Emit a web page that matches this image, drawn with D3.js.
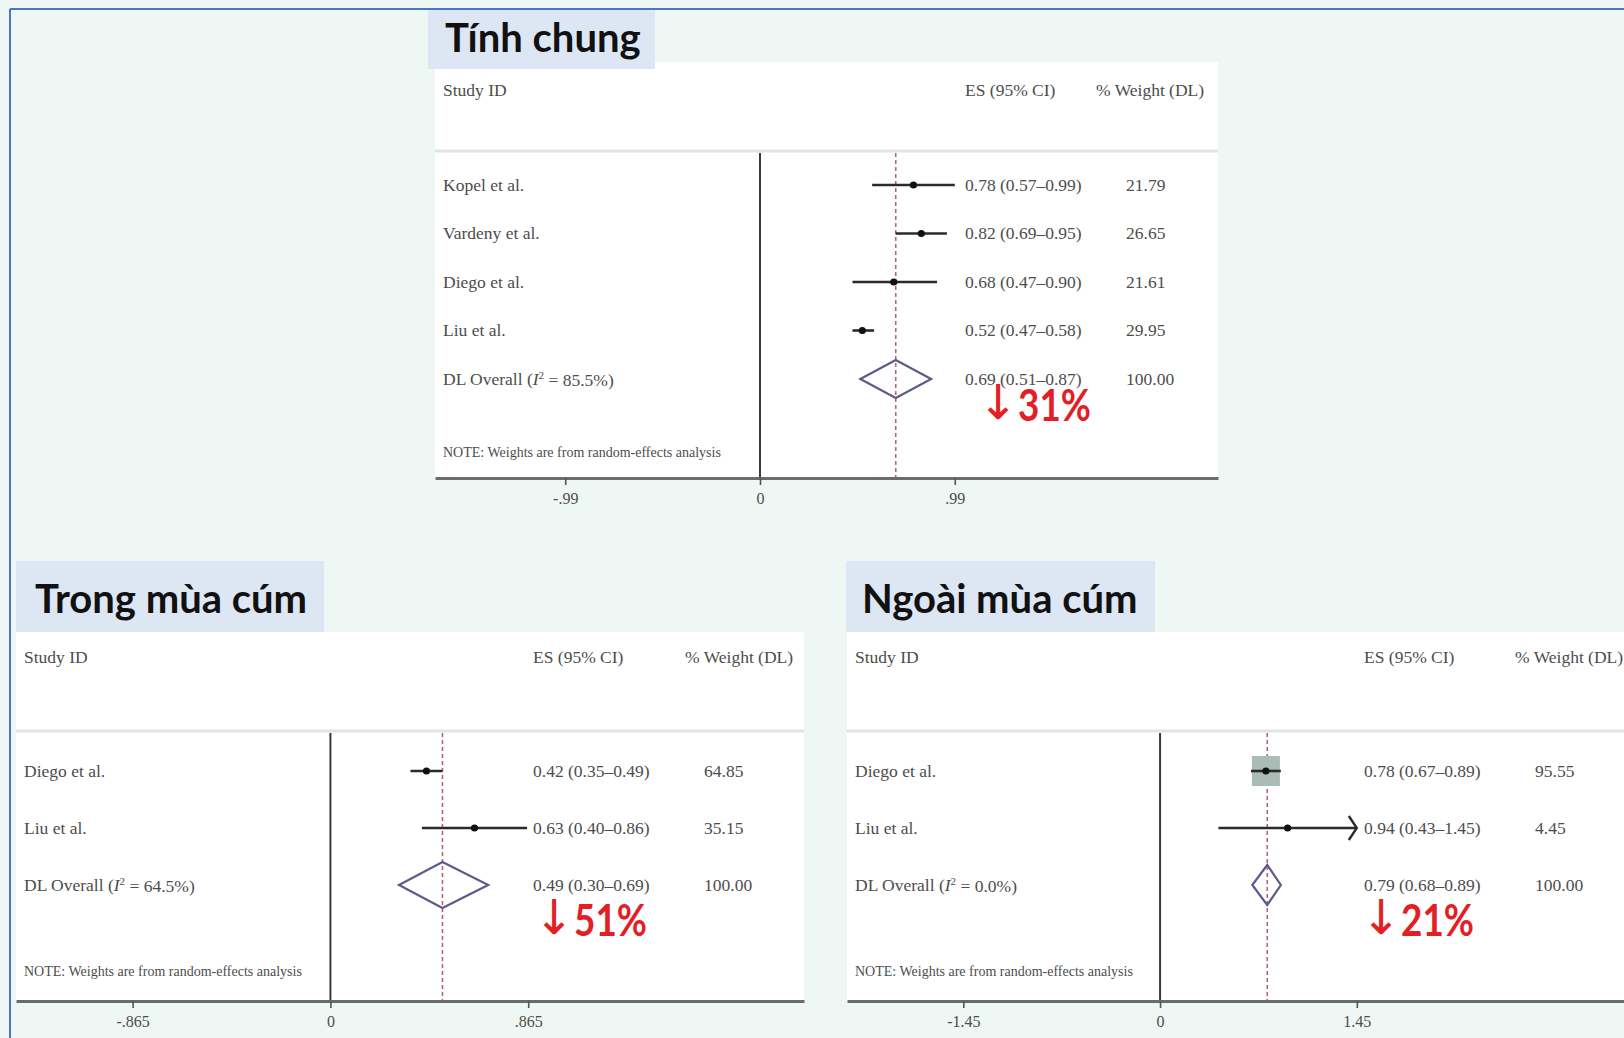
<!DOCTYPE html>
<html><head><meta charset="utf-8">
<script src="https://cdn.jsdelivr.net/npm/d3@7"></script>
<style>
html,body{margin:0;padding:0;background:#eff7f4;}
svg{display:block}
</style>
</head><body>
<svg id="chart" width="1624" height="1038"></svg>
<script>
// ---------------- DATA ----------------
const panelTitles = ["Tính chung", "Trong mùa cúm", "Ngoài mùa cúm"];
const studies = [
  ["Kopel et al.", "Vardeny et al.", "Diego et al.", "Liu et al."],
  ["Diego et al.", "Liu et al."],
  ["Diego et al.", "Liu et al."]
];
const es      = [[0.78, 0.82, 0.68, 0.52], [0.42, 0.63], [0.78, 0.94]];
const ciLow   = [[0.57, 0.69, 0.47, 0.47], [0.35, 0.40], [0.67, 0.43]];
const ciHigh  = [[0.99, 0.95, 0.90, 0.58], [0.49, 0.86], [0.89, 1.45]];
const weights = [[21.79, 26.65, 21.61, 29.95], [64.85, 35.15], [95.55, 4.45]];
const overallES   = [0.69, 0.49, 0.79];
const overallLow  = [0.51, 0.30, 0.68];
const overallHigh = [0.87, 0.69, 0.89];
const overallWeight = [100.00, 100.00, 100.00];
const i2Values  = ["85.5%", "64.5%", "0.0%"];
const reductions = ["31%", "51%", "21%"];
const tickValues = [[-0.99, 0, 0.99], [-0.865, 0, 0.865], [-1.45, 0, 1.45]];
const tickLabels = [["-.99", "0", ".99"], ["-.865", "0", ".865"], ["-1.45", "0", "1.45"]];
const headerLabels = ["Study ID", "ES (95% CI)", "% Weight (DL)"];
const noteText = "NOTE: Weights are from random-effects analysis";

// ---------------- LAYOUT ----------------
const layout = [
  { title: {x: 428, y: 10, w: 227, h: 59, tx: 445, ty: 52},
    panel: {x: 435, y: 62, w: 783}, sepY: 151, axisY: 478,
    domain: [-1.652, 2.328], rowRange: [185, 379],
    headerY: 96, esX: 965, wtX: 1126, wtHX: 1096, noteY: 457,
    diamondH: 19, red: {x: 982, y: 421}, clipMax: null, showBox: false },
  { title: {x: 16, y: 561, w: 308, h: 71, tx: 35, ty: 613},
    panel: {x: 16, y: 632, w: 788}, sepY: 731, axisY: 1001,
    domain: [-1.375, 2.071], rowRange: [771, 885],
    headerY: 663, esX: 533, wtX: 704, wtHX: 685, noteY: 976,
    diamondH: 23, red: {x: 538, y: 936}, clipMax: null, showBox: false },
  { title: {x: 846, y: 561, w: 309, h: 71, tx: 862, ty: 613},
    panel: {x: 847, y: 632, w: 777}, sepY: 731, axisY: 1001,
    domain: [-2.307, 3.419], rowRange: [771, 885],
    headerY: 663, esX: 1364, wtX: 1535, wtHX: 1515, noteY: 976,
    diamondH: 20, red: {x: 1365, y: 936}, clipMax: 1.45, showBox: true }
];

const serif = "'Liberation Serif', 'DejaVu Serif', serif";
const textCol = "#4d4d4d";
const fmt = d3.format(".2f");

const svg = d3.select("#chart");

// background
svg.append("rect").attr("width", 1624).attr("height", 1038).attr("fill", "#eff7f4");

panelTitles.forEach((title, p) => {
  const L = layout[p];
  const g = svg.append("g");
  const x = d3.scaleLinear().domain(L.domain).range([L.panel.x, L.panel.x + L.panel.w]);
  const nRows = studies[p].length + 1;
  const y = d3.scaleLinear().domain([0, nRows - 1]).range(L.rowRange);

  // white panel (header + body)
  g.append("rect").attr("x", L.panel.x).attr("y", L.panel.y)
    .attr("width", L.panel.w).attr("height", L.axisY - L.panel.y).attr("fill", "#ffffff");
  // header separator
  g.append("line").attr("x1", L.panel.x).attr("x2", L.panel.x + L.panel.w)
    .attr("y1", L.sepY).attr("y2", L.sepY).attr("stroke", "#e2e4e3").attr("stroke-width", 3);

  // title box
  g.append("rect").attr("x", L.title.x).attr("y", L.title.y)
    .attr("width", L.title.w).attr("height", L.title.h).attr("fill", "#dce7f3");
  g.append("text").attr("x", L.title.tx).attr("y", L.title.ty)
    .attr("font-family", "Lato, 'Open Sans', sans-serif").attr("font-weight", 700)
    .attr("font-size", 40).attr("fill", "#111").text(title);

  // headers
  const hdr = g.append("g").attr("font-family", serif).attr("font-size", 17.5).attr("fill", textCol);
  hdr.append("text").attr("x", L.panel.x + 8).attr("y", L.headerY).text(headerLabels[0]);
  hdr.append("text").attr("x", L.esX).attr("y", L.headerY).text(headerLabels[1]);
  hdr.append("text").attr("x", L.wtHX).attr("y", L.headerY).text(headerLabels[2]);

  // null line at 0
  g.append("line").attr("x1", x(0)).attr("x2", x(0))
    .attr("y1", L.sepY + 2).attr("y2", L.axisY).attr("stroke", "#3a3a3a").attr("stroke-width", 2);

  // overall dashed line
  g.append("line").attr("x1", x(overallES[p])).attr("x2", x(overallES[p]))
    .attr("y1", L.sepY + 2).attr("y2", L.axisY).attr("stroke", "#b5657a")
    .attr("stroke-width", 1.6).attr("stroke-dasharray", "4,3");

  // study rows
  studies[p].forEach((name, i) => {
    const yy = y(i);
    if (L.showBox && i === 0) {
      const bw = 28, bh = 30;
      g.append("rect").attr("x", x(es[p][i]) - bw / 2).attr("y", yy - bh / 2)
        .attr("width", bw).attr("height", bh).attr("fill", "#a9bcb6");
    }
    const hi = (L.clipMax !== null && ciHigh[p][i] >= L.clipMax) ? L.clipMax : ciHigh[p][i];
    g.append("line").attr("x1", x(ciLow[p][i])).attr("x2", x(hi))
      .attr("y1", yy).attr("y2", yy).attr("stroke", "#2b2b2b").attr("stroke-width", 2.6);
    if (L.clipMax !== null && ciHigh[p][i] >= L.clipMax) {
      const ax = x(L.clipMax);
      g.append("path").attr("d", `M${ax - 8},${yy - 12} L${ax},${yy} L${ax - 8},${yy + 12}`)
        .attr("fill", "none").attr("stroke", "#2b2b2b").attr("stroke-width", 2.4);
    }
    g.append("circle").attr("cx", x(es[p][i])).attr("cy", yy).attr("r", 3.6).attr("fill", "#111");

    const t = g.append("g").attr("font-family", serif).attr("font-size", 17.5).attr("fill", textCol);
    t.append("text").attr("x", L.panel.x + 8).attr("y", yy).attr("dy", "0.32em").text(name);
    t.append("text").attr("x", L.esX).attr("y", yy).attr("dy", "0.32em")
      .text(`${fmt(es[p][i])} (${fmt(ciLow[p][i])}–${fmt(ciHigh[p][i])})`);
    t.append("text").attr("x", L.wtX).attr("y", yy).attr("dy", "0.32em").text(fmt(weights[p][i]));
  });

  // overall row
  const oy = y(nRows - 1);
  const dh = L.diamondH;
  g.append("path")
    .attr("d", `M${x(overallLow[p])},${oy} L${x(overallES[p])},${oy - dh} L${x(overallHigh[p])},${oy} L${x(overallES[p])},${oy + dh} Z`)
    .attr("fill", "none").attr("stroke", "#5d5a8c").attr("stroke-width", 2.2);
  const ot = g.append("g").attr("font-family", serif).attr("font-size", 17.5).attr("fill", textCol);
  const lab = ot.append("text").attr("x", L.panel.x + 8).attr("y", oy).attr("dy", "0.32em");
  lab.append("tspan").text("DL Overall (");
  lab.append("tspan").attr("font-style", "italic").text("I");
  lab.append("tspan").attr("font-size", 11).attr("dy", "-0.55em").text("2");
  lab.append("tspan").attr("dy", "0.4em").text(` = ${i2Values[p]})`);
  ot.append("text").attr("x", L.esX).attr("y", oy).attr("dy", "0.32em")
    .text(`${fmt(overallES[p])} (${fmt(overallLow[p])}–${fmt(overallHigh[p])})`);
  ot.append("text").attr("x", L.wtX).attr("y", oy).attr("dy", "0.32em").text(fmt(overallWeight[p]));

  // note
  g.append("text").attr("x", L.panel.x + 8).attr("y", L.noteY)
    .attr("font-family", serif).attr("font-size", 14).attr("fill", textCol).text(noteText);

  // axis
  const axis = d3.axisBottom(x).tickValues(tickValues[p])
    .tickFormat((d, i) => tickLabels[p][i]).tickSize(7).tickSizeOuter(0).tickPadding(8);
  const ag = g.append("g").attr("transform", `translate(0,${L.axisY})`).call(axis);
  ag.select(".domain").attr("stroke", "#6b6b6b").attr("stroke-width", 3);
  ag.selectAll(".tick line").attr("stroke", "#555").attr("stroke-width", 1.6);
  ag.selectAll(".tick text").attr("font-family", serif).attr("font-size", 16).attr("fill", textCol);

  // red reduction annotation
  const rg = g.append("g").attr("fill", "#e41e25");
  rg.append("text").attr("x", L.red.x - 4).attr("y", L.red.y - 2)
    .attr("font-family", "'DejaVu Sans', sans-serif").attr("font-size", 48).text("↓");
  rg.append("text").attr("x", L.red.x + 36).attr("y", L.red.y)
    .attr("font-family", "Lato, 'Open Sans', sans-serif").attr("font-weight", 700)
    .attr("font-size", 44).attr("textLength", 73).attr("lengthAdjust", "spacingAndGlyphs")
    .text(reductions[p]);
});

// slide frame (blue edge)
svg.append("line").attr("x1", 10).attr("x2", 1624).attr("y1", 9).attr("y2", 9)
  .attr("stroke", "#4a76c8").attr("stroke-width", 2);
svg.append("line").attr("x1", 10).attr("x2", 10).attr("y1", 9).attr("y2", 1038)
  .attr("stroke", "#4a76c8").attr("stroke-width", 2);
</script>
</body></html>
